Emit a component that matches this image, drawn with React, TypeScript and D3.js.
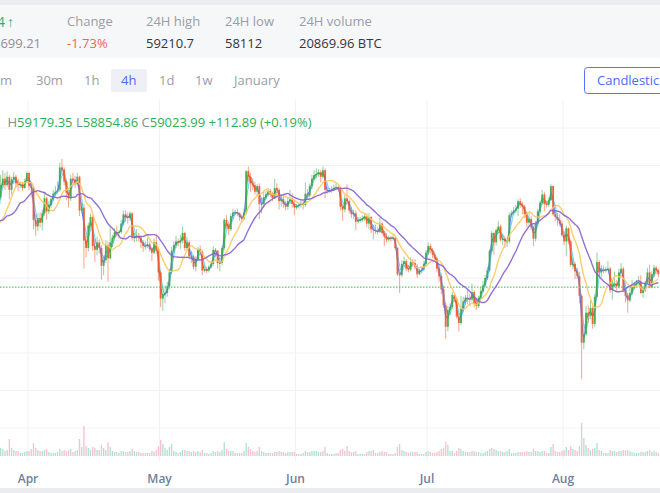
import React, { useMemo } from 'react';
import * as d3 from 'd3';

// ---- data (prices in thousand USD, 12h candles, [high, low, close]; open = previous close)
const firstOpen = 71.4;
const startTime = Date.UTC(2024, 2, 15, 0);
const HALF_DAY = 12 * 3600 * 1000;

const march = [
  [72.4,66.9,68.5],[70.2,65.6,69.4],[70.0,68.8,69.5],[69.7,64.8,65.3],[66.9,64.6,66.5],[68.8,66.2,68.4],[68.9,67.3,68.0],[68.6,66.1,67.6],[67.8,64.1,64.5],[65.2,61.6,61.9],
  [63.1,60.8,62.5],[68.1,62.2,67.9],[68.2,66.8,67.5],[67.8,64.9,65.5],[66.6,64.2,64.5],[65.0,62.8,63.8],[64.6,63.3,64.2],[65.9,63.6,64.1],[65.4,63.9,65.0],[67.5,64.8,67.2],
  [69.1,66.6,68.6],[71.0,68.4,69.9],[71.5,69.6,70.6],[71.2,69.4,69.9],[71.4,69.7,70.8],[71.0,68.4,69.4],[70.8,68.9,70.5],[71.3,70.0,70.8],[71.0,69.6,70.1],[70.6,69.3,69.9],
  [70.3,69.6,70.0],[70.2,69.3,69.6],[70.6,69.5,70.3],[71.4,70.1,71.2],
];
const april = [
  [71.3,69.4,69.8],[70.1,68.6,69.6],[69.7,65.2,66.2],[66.8,64.5,65.5],[66.9,65.0,66.4],[67.0,65.4,65.9],[67.3,65.1,66.9],[69.2,66.6,68.5],[68.7,66.2,67.1],[68.2,66.8,67.8],
  [68.6,67.5,68.4],[69.4,68.2,69.0],[69.8,68.8,69.2],[70.3,69.0,69.4],[72.3,69.2,71.8],[72.7,71.0,71.6],[71.8,69.9,70.3],[70.5,68.3,69.1],[69.3,67.5,68.5],[71.0,68.2,70.6],
  [71.2,70.1,70.5],[70.9,69.6,70.0],[71.2,69.8,70.8],[70.9,66.6,67.2],[68.0,66.9,67.5],[67.9,61.0,64.0],[64.5,62.2,63.2],[65.9,62.8,65.6],[66.9,65.2,66.5],[66.7,62.9,63.4],
  [64.2,61.7,63.0],[64.4,62.4,63.8],[64.1,62.6,63.2],[63.5,59.8,61.3],[62.4,60.3,61.9],[64.0,61.6,63.5],[63.9,59.6,62.1],[65.4,62.0,63.8],[64.6,63.3,64.3],[65.3,64.0,64.9],
  [65.6,64.4,64.8],[65.1,64.2,64.9],[66.2,64.7,65.8],[67.2,65.6,66.8],[67.2,66.0,66.5],[67.0,65.8,66.4],[67.1,66.1,66.9],[67.0,64.0,64.3],[64.8,63.8,64.4],[65.2,63.9,64.5],
  [64.8,63.9,64.3],[64.5,63.2,63.8],[64.0,62.8,63.4],[63.9,63.0,63.4],[64.3,63.2,63.6],[63.9,62.8,63.1],[63.3,61.8,62.7],[64.2,62.5,63.8],[64.7,62.6,62.9],[63.2,59.7,60.6],
];
const may = [
  [60.8,56.9,57.8],[58.9,56.5,58.3],[59.2,57.3,58.4],[59.6,58.0,59.1],[61.0,58.8,60.6],[63.3,60.4,62.9],[63.9,62.7,63.5],[64.5,63.2,63.9],[64.2,63.4,63.8],[64.6,63.1,64.0],
  [65.5,63.7,64.8],[64.9,62.9,63.2],[64.4,62.9,63.8],[64.0,62.1,62.3],[62.8,61.6,62.3],[62.5,60.9,61.2],[62.3,60.7,62.0],[63.3,61.8,63.1],[63.5,62.4,62.8],[63.0,60.3,60.8],
  [61.3,60.6,60.9],[61.2,60.5,60.8],[61.4,60.6,61.2],[61.8,61.0,61.5],[63.4,61.3,63.0],[63.2,62.2,62.9],[63.0,61.0,61.6],[62.2,60.7,61.6],[63.5,61.4,63.2],[66.4,63.0,66.2],
  [66.7,65.3,65.6],[66.0,64.6,65.2],[66.9,65.0,66.6],[67.4,66.3,67.0],[67.3,66.7,67.0],[67.4,66.6,66.9],[67.0,66.1,66.5],[66.8,65.9,66.3],[67.4,66.1,67.0],[71.5,66.8,71.4],
  [71.9,70.3,70.8],[71.2,69.2,70.1],[70.6,69.4,69.9],[70.3,68.9,69.2],[70.0,68.8,69.8],[70.1,66.3,67.9],[68.5,66.9,67.9],[69.2,67.5,68.6],[69.3,68.4,68.9],[69.6,68.7,69.3],
  [69.5,68.6,68.9],[69.2,68.2,68.5],[70.6,68.4,69.6],[70.1,68.9,69.4],[69.6,67.3,68.2],[68.8,67.6,68.4],[68.8,67.5,67.9],[68.2,67.2,67.6],[68.6,67.3,68.2],[69.4,67.9,68.4],
  [69.0,67.5,67.9],[68.3,66.7,67.5],
];
const june = [
  [67.9,67.3,67.7],[68.0,67.4,67.8],[68.4,67.5,68.0],[68.3,67.3,67.8],[70.2,67.6,69.0],[69.5,68.5,68.8],[70.1,68.6,69.8],[71.0,69.5,70.6],[71.5,70.4,71.0],[71.7,70.6,71.1],
  [71.6,70.8,71.3],[71.5,70.2,70.8],[71.9,70.6,71.5],[71.7,68.5,69.4],[69.7,69.0,69.3],[69.6,69.1,69.3],[69.8,69.1,69.5],[70.0,69.3,69.6],[70.1,69.4,69.7],[69.9,69.2,69.5],
  [69.6,67.2,67.6],[67.9,66.1,67.3],[68.9,67.0,68.5],[70.0,67.8,68.2],[68.4,66.9,67.2],[67.6,66.4,66.8],[67.3,66.3,66.9],[67.2,65.1,66.0],[66.5,65.8,66.2],[66.5,65.9,66.2],
  [66.7,66.0,66.4],[66.9,66.1,66.6],[66.9,65.4,65.8],[66.9,65.2,66.5],[66.6,64.8,65.2],[65.6,64.1,65.1],[65.7,64.7,65.0],[65.4,64.6,64.9],[66.5,64.8,65.8],[66.0,64.6,64.8],
  [65.0,63.4,64.4],[64.8,63.8,64.1],[64.5,63.9,64.3],[64.5,63.9,64.2],[64.6,64.0,64.3],[64.4,63.0,63.2],[63.3,60.2,60.4],[61.0,58.4,60.3],[61.9,60.1,61.5],[62.3,61.2,61.8],
  [62.0,60.7,61.0],[61.4,60.6,60.9],[62.2,60.7,61.7],[62.0,61.2,61.6],[62.0,60.9,61.2],[61.5,60.0,60.4],[61.0,60.3,60.8],[61.2,60.5,60.9],[61.8,60.7,61.5],[63.0,61.3,62.7],
];
const july = [
  [63.8,62.5,63.4],[63.7,62.6,63.0],[63.2,62.1,62.5],[62.8,61.8,62.1],[62.3,60.6,61.0],[61.3,59.6,60.2],[60.5,58.3,58.8],[59.2,56.8,57.1],[57.4,53.5,54.8],[57.0,54.3,56.6],
  [57.3,56.2,56.9],[58.5,56.7,58.2],[58.4,57.4,57.8],[58.0,55.7,55.9],[56.3,54.3,55.2],[58.1,55.0,56.7],[58.0,56.4,57.5],[58.2,57.1,57.9],[58.8,57.2,57.8],[58.3,57.0,57.7],
  [59.4,57.5,58.5],[58.7,56.9,57.3],[57.8,56.6,57.0],[58.1,56.8,57.9],[59.0,57.7,58.6],[59.7,58.4,59.2],[60.3,59.0,60.0],[61.2,59.8,60.8],[63.1,60.6,62.9],[65.0,62.7,64.8],
  [64.9,62.5,63.8],[65.3,63.5,65.1],[66.1,64.8,65.5],[65.7,63.9,64.1],[64.7,63.5,64.2],[64.5,63.2,63.9],[64.3,63.3,63.9],[67.0,63.7,66.7],[67.2,66.5,66.9],[67.6,66.7,67.2],
  [67.8,66.9,67.4],[68.4,66.6,68.2],[68.5,67.5,67.8],[68.1,66.8,67.6],[67.8,66.4,66.8],[67.1,65.4,65.9],[67.0,65.6,66.3],[66.6,65.1,65.4],[65.6,63.4,64.2],[66.1,63.9,65.8],
  [67.4,65.6,67.1],[68.2,66.9,68.0],[69.4,67.8,68.9],[69.2,67.1,67.9],[68.2,67.5,67.8],[68.6,67.6,68.3],[70.0,68.2,69.8],[69.9,66.6,66.8],[67.2,66.1,66.5],[66.9,65.6,66.2],
  [66.8,65.5,65.8],[66.1,64.4,64.6],
];
const august = [
  [65.0,63.5,63.9],[65.6,62.3,65.3],[65.4,63.6,63.9],[64.1,61.2,61.4],[62.2,60.9,61.5],[61.7,59.9,60.7],[61.1,59.9,60.2],[60.6,57.3,58.1],[58.3,49.2,53.1],[55.1,52.4,54.0],
  [57.0,53.8,56.3],[57.1,55.2,56.0],[57.6,55.6,56.8],[57.0,54.6,55.1],[58.3,54.8,58.0],[62.7,57.8,61.7],[61.9,60.3,60.6],[61.4,60.1,60.9],[61.3,60.5,60.8],[61.2,60.6,60.9],
  [61.8,60.7,61.0],[61.2,58.4,58.7],[59.8,57.7,59.3],[60.7,59.0,59.4],[59.8,58.6,59.1],[61.0,58.9,60.6],[61.6,60.4,61.0],[61.2,58.5,58.7],[59.0,57.4,58.1],[58.4,56.3,57.6],
  [59.0,57.4,58.4],[59.8,58.2,59.0],[59.6,58.8,59.3],[59.8,59.1,59.5],[60.2,59.3,59.6],[60.3,58.3,58.4],[59.0,57.9,58.7],[59.7,58.5,59.5],[61.1,59.4,60.6],[61.4,58.9,59.0],
  [60.7,58.9,60.4],[61.4,60.2,61.1],[61.3,60.4,60.8],[61.0,60.1,60.4],
];

// volumes (thousand BTC per 12h)
const volMarch = [10,12,6,9,7,8,5,6,9,11,12,8,6,8,5,6,4,5,4,7, 6,8,7,5,6,17,8,6,5,5,3,3,4,5];
const volApril = [5,7,13,8,6,5,5,6,7,4,3,3,3,4,7,5,6,5,6,7,4,5,6,17,9,30,10,8,6,9,8,6,6,11,8,6,14,9,5,4,4,3,5,5,4,4,5,7,5,4,4,3,3,3,3,3,5,4,6,10];
const volMay = [16,12,8,6,9,12,5,4,3,4,6,6,5,5,4,5,4,5,4,6,3,3,2,3,5,4,5,4,6,14,7,5,5,5,3,3,3,3,5,13,9,7,5,4,5,9,5,4,3,3,3,3,4,4,5,4,4,3,4,4,4,4];
const volJune = [2,2,2,3,5,4,4,5,5,5,4,4,5,9,3,2,2,2,3,3,6,7,5,10,5,4,4,5,2,2,2,2,4,5,5,6,3,3,4,5,4,4,2,2,2,3,9,12,6,5,4,3,4,4,4,4,2,2,2,4];
const volJuly = [5,4,3,3,4,5,7,8,14,11,5,5,3,5,8,7,5,4,4,4,5,5,4,4,3,3,4,5,7,8,7,6,5,5,4,4,5,7,3,3,3,4,4,4,4,5,4,4,7,5,5,4,5,5,3,3,9,12,5,4,4,5];
const volAugust = [6,9,6,10,7,6,5,10,33,18,11,8,6,7,8,13,6,5,3,3,3,6,5,5,4,5,5,6,6,6,5,4,3,3,3,4,4,4,5,6,4,5,4,3];

const monthTicks = ['Apr', 'May', 'Jun', 'Jul', 'Aug'];
const monthStarts = [Date.UTC(2024,3,1), Date.UTC(2024,4,1), Date.UTC(2024,5,1), Date.UTC(2024,6,1), Date.UTC(2024,7,1)];
const priceGrid = [44, 48, 52, 56, 60, 64, 68, 72, 76];
const maPeriods = [2, 3, 10, 20];
const maColors = ['#4f6bef', '#62cff4', '#ffc85e', '#8862cf'];
const maWidths = [1.1, 1.1, 1.4, 1.4];
const lastPrice = 59.02399;

const headerLabels = ['Change', '24H high', '24H low', '24H volume'];
const headerValues = ['-1.73%', '59210.7', '58112', '20869.96 BTC'];
const intervals = ['30m', '1h', '4h', '1d', '1w', 'January'];
const legend = [['H', '59179.35'], [' L', '58854.86'], [' C', '59023.99'], [' ', '+112.89 (+0.19%)']];

const UP = '#3eab4c';
const DOWN = '#f15a2b';
const FONT = '"Open Sans", "Noto Sans", sans-serif';

export default function App() {
  const W = 660, H = 493;
  const candles = useMemo(() => {
    const all = [...march, ...april, ...may, ...june, ...july, ...august];
    const vols = [...volMarch, ...volApril, ...volMay, ...volJune, ...volJuly, ...volAugust];
    let prev = firstOpen;
    return all.map((d, i) => {
      const o = prev;
      prev = d[2];
      return { t: new Date(startTime + i * HALF_DAY + HALF_DAY / 2), o, h: d[0], l: d[1], c: d[2], v: vols[i] };
    });
  }, []);

  const x = d3.scaleUtc().domain([new Date(monthStarts[0]), new Date(monthStarts[4])]).range([28, 563]);
  const y = d3.scaleLinear().domain([60, 64]).range([278, 240.5]);
  const yv = d3.scaleLinear().domain([0, 40]).range([456, 416]);
  const step = x(new Date(startTime + HALF_DAY)) - x(new Date(startTime));
  const bw = step * 0.85;
  const vw = step * 0.6;

  const mas = maPeriods.map((n) => {
    const pts: [number, number][] = [];
    for (let i = n - 1; i < candles.length; i++) {
      const s = d3.sum(candles.slice(i - n + 1, i + 1), (d) => d.c);
      pts.push([x(candles[i].t), y(s / n)]);
    }
    return d3.line().curve(d3.curveMonotoneX)(pts) || '';
  });

  const gridColor = '#f1f2f4';
  const yCur = y(lastPrice);

  const maPath = (i: number) => (
    <path key={'ma' + i} d={mas[i]} fill="none" stroke={maColors[i]} strokeWidth={maWidths[i]} strokeOpacity={0.9} />
  );

  return (
    <svg width={W} height={H} style={{ position: 'absolute', left: 0, top: 0, background: '#fff' }} fontFamily={FONT}>
      <defs>
        <clipPath id="plot"><rect x={0} y={100} width={W} height={362} /></clipPath>
      </defs>
      {/* header */}
      <rect x={0} y={0} width={W} height={58} fill="#f6f7f9" />
      <rect x={0} y={0} width={W} height={5} fill="#eaecf0" />
      <rect x={0} y={488} width={W} height={5} fill="#eaecf0" />
      <text x={5} y={27} fontSize={14} fill="#2fb36b" textAnchor="end">58699.24</text>
      <text x={7} y={27} fontSize={14} fill="#2fb36b">↑</text>
      <text x={41} y={48} fontSize={13} fill="#8c9098" textAnchor="end">58699.21</text>
      {headerLabels.map((s, i) => (
        <text key={s} x={[67, 146, 225, 299][i]} y={26} fontSize={13} fill="#9a9ea6">{s}</text>
      ))}
      {headerValues.map((s, i) => (
        <text key={s} x={[67, 146, 225, 299][i]} y={48} fontSize={13} fill={i === 0 ? '#f0654f' : '#33363b'}>{s}</text>
      ))}
      {/* toolbar */}
      <text x={12} y={85} fontSize={13} fill="#9a9ea6" textAnchor="end">15m</text>
      <rect x={111} y={69} width={36} height={23} rx={2} fill="#eef0f6" />
      {intervals.map((s, i) => (
        <text key={s} x={[36, 84, 121, 159, 195, 234][i]} y={85} fontSize={13} fill={s === '4h' ? '#4a6cf7' : '#9a9ea6'}>{s}</text>
      ))}
      <rect x={584.5} y={67.5} width={100} height={26} rx={3} fill="#fff" stroke="#5675f5" />
      <text x={597} y={85} fontSize={13} fill="#4a6cf7">Candlestick</text>

      {/* grid */}
      {monthStarts.map((m) => (
        <line key={m} x1={x(new Date(m))} x2={x(new Date(m))} y1={100} y2={462} stroke={gridColor} />
      ))}
      {priceGrid.map((p) => (
        <line key={p} x1={0} x2={W} y1={y(p)} y2={y(p)} stroke={gridColor} />
      ))}

      {/* legend */}
      <text x={7.5} y={127} fontSize={13}>
        {legend.map(([k, v], i) => (
          <React.Fragment key={i}>
            <tspan fill="#7d8ba3">{k}</tspan>
            <tspan fill="#2fae55">{v}</tspan>
          </React.Fragment>
        ))}
      </text>

      <g clipPath="url(#plot)">
        {/* volume */}
        {candles.map((d, i) => (
          <rect key={'v' + i} x={x(d.t) - vw / 2} y={yv(d.v)} width={vw} height={456 - yv(d.v)}
            fill={d.c >= d.o ? '#86d6bf' : '#f4a5b7'} fillOpacity={0.7} />
        ))}
        {maPath(1)}
        {maPath(0)}
        {/* candles */}
        {candles.map((d, i) => {
          const cx = x(d.t);
          const col = d.c >= d.o ? UP : DOWN;
          const top = y(Math.max(d.o, d.c));
          const bot = y(Math.min(d.o, d.c));
          return (
            <g key={'c' + i}>
              <line x1={cx} x2={cx} y1={y(d.h)} y2={y(d.l)} stroke={col} strokeOpacity={0.55} strokeWidth={1} />
              <rect x={cx - bw / 2} y={top} width={bw} height={Math.max(1, bot - top)} fill={col} fillOpacity={0.9} />
            </g>
          );
        })}
        <line x1={0} x2={W} y1={yCur} y2={yCur} stroke="#56c46b" strokeWidth={1.2} strokeDasharray="1.5 1.5" />
        {maPath(2)}
        {maPath(3)}
      </g>

      {/* x axis labels */}
      {monthTicks.map((s, i) => (
        <text key={s} x={x(new Date(monthStarts[i]))} y={483} fontSize={12} fontWeight={600} fill="#6e7f9d" textAnchor="middle">{s}</text>
      ))}
    </svg>
  );
}
